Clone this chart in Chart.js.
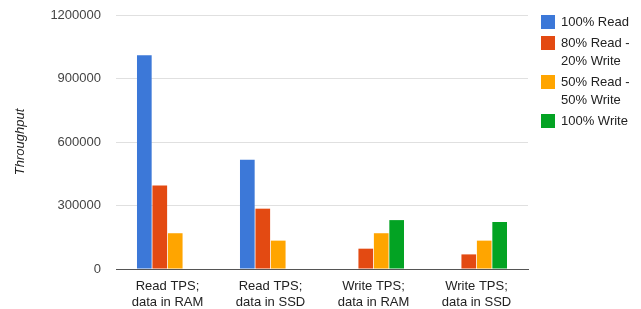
<!DOCTYPE html>
<html>
<head>
<meta charset="utf-8">
<script src="https://cdn.jsdelivr.net/npm/chart.js@4"></script>
<style>
  html, body { margin: 0; padding: 0; background: #fff; }
  #wrap { position: relative; width: 641px; height: 309px; }
  #legend { position: absolute; left: 541px; top: 13px; font-family: "Liberation Sans", Arial, sans-serif; font-size: 13px; color: #222; }
  .item { display: flex; align-items: flex-start; margin-bottom: 3px; line-height: 18px; }
  .box { width: 14px; height: 14px; margin-right: 6px; margin-top: 2px; flex: none; }
</style>
</head>
<body>
<div id="wrap">
  <canvas id="myChart" width="641" height="309"></canvas>
  <div id="legend"></div>
</div>
<script>
const categories = [
    ['Read TPS;', 'data in RAM'],
    ['Read TPS;', 'data in SSD'],
    ['Write TPS;', 'data in RAM'],
    ['Write TPS;', 'data in SSD']
];
const seriesNames = [
    ['100% Read'],
    ['80% Read -', '20% Write'],
    ['50% Read -', '50% Write'],
    ['100% Write']
];
const read100 = [1010000, 516000, 0, 0];
const read80write20 = [395000, 285000, 96000, 69000];
const read50write50 = [169000, 134000, 169000, 134000];
const write100 = [0, 0, 231000, 222000];
const colors = ['#3c78d8', '#e34a12', '#ffa500', '#03a323'];
const yTicks = [0, 300000, 600000, 900000, 1200000];

const values = [read100, read80write20, read50write50, write100];

const data = {
    labels: categories,
    datasets: values.map(function (v, i) {
        return {
            label: seriesNames[i].join(' '),
            data: v,
            backgroundColor: colors[i],
            categoryPercentage: 0.6,
            barPercentage: 0.95
        };
    })
};

const font = { family: '"Liberation Sans", Arial, sans-serif', size: 13 };

const config = {
    type: 'bar',
    data: data,
    options: {
        responsive: false,
        animation: false,
        layout: { padding: { top: 15, right: 113, left: 0, bottom: 0 } },
        plugins: { legend: { display: false }, tooltip: { enabled: false } },
        scales: {
            x: {
                grid: { display: false },
                border: { color: '#555', width: 1 },
                ticks: { color: '#222', font: font, maxRotation: 0, padding: 2 },
                afterFit: function (s) { s.height = 40; s.paddingLeft = 0; s.paddingRight = 0; }
            },
            y: {
                min: 0,
                max: 1200000,
                afterBuildTicks: function (s) { s.ticks = yTicks.map(function (t) { return { value: t }; }); },
                grid: { color: '#e0e0e0', drawTicks: false },
                border: { display: false },
                ticks: {
                    color: '#444',
                    font: font,
                    padding: 15,
                    callback: function (v) { return String(v); }
                },
                title: {
                    display: true,
                    text: 'Throughput',
                    color: '#222',
                    font: { family: font.family, size: 13, style: 'italic' },
                    padding: { top: 13, bottom: 0 }
                },
                afterFit: function (s) { s.width = 116; s.paddingTop = 0; s.paddingBottom = 0; }
            }
        }
    }
};

const myChart = new Chart(document.getElementById('myChart'), config);

// legend with wrapped labels
var html = '';
seriesNames.forEach(function (name, i) {
    html += '<div class="item"><div class="box" style="background:' + colors[i] + '"></div><div>' + name.join('<br>') + '</div></div>';
});
document.getElementById('legend').innerHTML = html;
</script>
</body>
</html>
